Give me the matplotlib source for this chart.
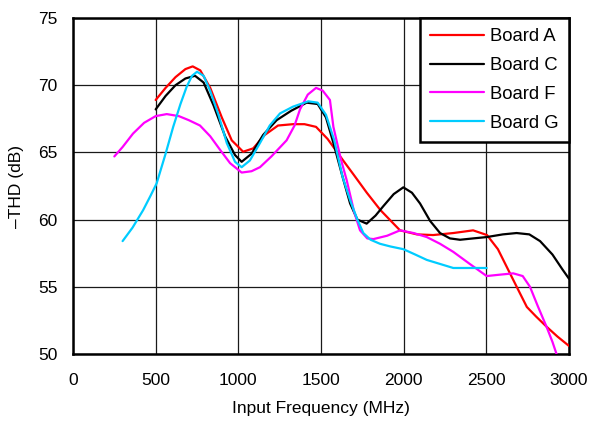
import matplotlib
matplotlib.use("Agg")
import matplotlib.pyplot as plt

plt.rcParams['font.family'] = ['Liberation Sans', 'DejaVu Sans']

freq_a = [500, 560, 620, 680, 724, 770, 830, 900, 960, 1029, 1090, 1160, 1240, 1331, 1400, 1470, 1540, 1634, 1700, 1777, 1860, 1978, 2080, 2178, 2300, 2420, 2504, 2570, 2643, 2700, 2745, 2800, 2867, 2930, 3000]
thd_a = [68.9, 69.8, 70.6, 71.2, 71.4, 71.1, 69.8, 67.6, 65.9, 65.05, 65.3, 66.3, 67.0, 67.1, 67.1, 66.9, 66.0, 64.4, 63.3, 62.0, 60.7, 59.2, 58.9, 58.85, 59.0, 59.2, 58.85, 57.8, 56.0, 54.6, 53.5, 52.8, 52.0, 51.3, 50.6]

freq_c = [500, 560, 620, 680, 738, 790, 850, 920, 980, 1020, 1080, 1150, 1232, 1320, 1413, 1480, 1530, 1575, 1630, 1676, 1720, 1776, 1830, 1877, 1940, 1998, 2050, 2099, 2160, 2220, 2280, 2341, 2420, 2502, 2600, 2683, 2760, 2825, 2900, 2960, 3000]
thd_c = [68.2, 69.2, 70.0, 70.5, 70.7, 70.2, 68.5, 66.2, 64.8, 64.3, 64.9, 66.3, 67.4, 68.1, 68.7, 68.6, 67.6, 65.7, 63.2, 61.2, 60.0, 59.7, 60.3, 61.0, 61.9, 62.4, 62.0, 61.2, 59.9, 59.0, 58.6, 58.5, 58.6, 58.7, 58.9, 59.0, 58.9, 58.4, 57.4, 56.3, 55.6]

freq_f = [250, 300, 363, 430, 500, 567, 640, 700, 768, 830, 889, 950, 1020, 1080, 1131, 1200, 1292, 1340, 1373, 1420, 1470, 1510, 1554, 1575, 1620, 1655, 1700, 1736, 1780, 1817, 1900, 1978, 2060, 2140, 2220, 2300, 2400, 2502, 2580, 2663, 2720, 2764, 2810, 2865, 2900, 2930]
thd_f = [64.7, 65.4, 66.4, 67.2, 67.7, 67.85, 67.7, 67.4, 67.0, 66.2, 65.2, 64.2, 63.5, 63.6, 63.9, 64.7, 65.9, 67.0, 68.2, 69.3, 69.8, 69.6, 68.9, 66.9, 64.5, 62.95, 60.6, 59.2, 58.6, 58.55, 58.8, 59.2, 59.0, 58.7, 58.2, 57.6, 56.7, 55.8, 55.9, 56.0, 55.8, 55.0, 53.6, 52.0, 50.9, 49.8]

freq_g = [300, 360, 424, 470, 506, 560, 606, 650, 688, 720, 750, 790, 829, 880, 930, 980, 1020, 1070, 1131, 1190, 1252, 1330, 1423, 1480, 1530, 1580, 1630, 1676, 1720, 1756, 1800, 1857, 1920, 1998, 2070, 2140, 2220, 2300, 2400, 2502]
thd_g = [58.4, 59.4, 60.7, 61.8, 62.7, 64.9, 66.9, 68.6, 69.9, 70.7, 71.0, 70.7, 69.6, 67.8, 65.7, 64.3, 63.9, 64.4, 65.7, 67.0, 67.9, 68.4, 68.8, 68.7, 67.8, 65.9, 63.2, 61.45, 60.0, 59.0, 58.5, 58.2, 58.0, 57.8, 57.4, 57.0, 56.7, 56.4, 56.4, 56.4]

series = [
    ("Board A", freq_a, thd_a, "#ff0000"),
    ("Board C", freq_c, thd_c, "#000000"),
    ("Board F", freq_f, thd_f, "#ff00ff"),
    ("Board G", freq_g, thd_g, "#00ccff"),
]

x_ticks = [0, 500, 1000, 1500, 2000, 2500, 3000]
y_ticks = [50, 55, 60, 65, 70, 75]

fig = plt.figure(figsize=(5.9, 4.22), dpi=100)
ax = fig.add_axes([73/590, 1-354/422, (569-73)/590, (354-18)/422])

for name, xs, ys, col in series:
    ax.plot(xs, ys, color=col, lw=1.6, label=name, solid_capstyle='round',
            solid_joinstyle='round', zorder=3)

ax.set_xlim(0, 3000)
ax.set_ylim(50, 75)
ax.set_xticks(x_ticks)
ax.set_yticks(y_ticks)
ax.grid(True, color='#1a1a1a', lw=0.9, zorder=0)
ax.tick_params(axis='x', length=0, labelsize=12.5, pad=14)
ax.tick_params(axis='y', length=0, labelsize=12.5, pad=11)
for s in ax.spines.values():
    s.set_linewidth(1.8)
ax.set_xlabel("Input Frequency (MHz)", fontsize=12.5, labelpad=9)
ax.set_ylabel("\u2013THD (dB)", fontsize=12.5, labelpad=10)

leg = ax.legend(loc='upper right', fontsize=13.3, frameon=True, fancybox=False,
                borderaxespad=0, handlelength=2.9, labelspacing=0.64,
                borderpad=0.55, handletextpad=0.35)
leg.get_frame().set_edgecolor('black')
leg.get_frame().set_linewidth(1.8)
leg.get_frame().set_alpha(1)

fig.savefig("out.png", dpi=100)
